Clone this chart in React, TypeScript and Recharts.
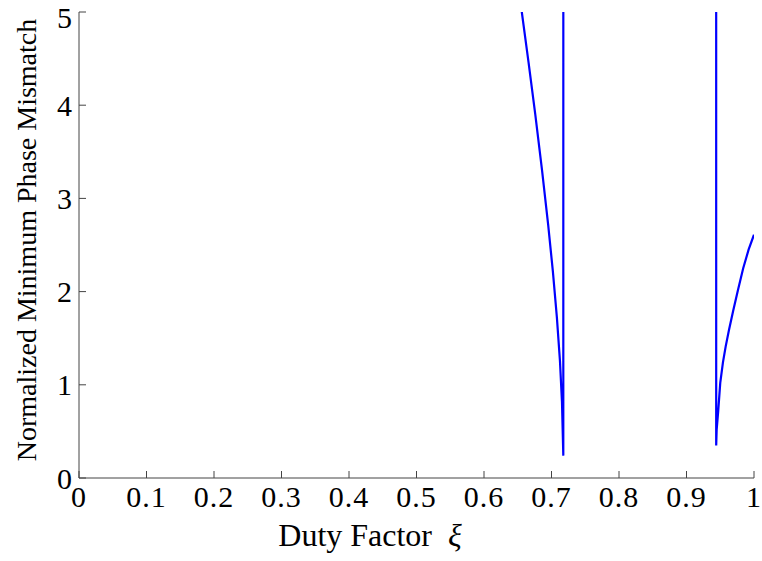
import { LineChart, Line, XAxis, YAxis, Label } from "recharts";

const dutyFactor = [
    0.648, 0.656, 0.666, 0.676, 0.686, 0.695, 0.702, 0.708, 0.7125, 0.7155, 0.7175, 0.7176,
    0.9438, 0.944, 0.9447, 0.947, 0.95, 0.954, 0.958, 0.963, 0.969, 0.976, 0.984, 0.992, 1.0,
];
const mismatch = [
    5.45, 5.0, 4.46, 3.9, 3.3, 2.72, 2.22, 1.72, 1.26, 0.82, 0.24, 30,
    30, 0.35, 0.52, 0.72, 1.02, 1.24, 1.41, 1.59, 1.79, 2.01, 2.25, 2.45, 2.61,
];
const xTicks = [0, 0.1, 0.2, 0.3, 0.4, 0.5, 0.6, 0.7, 0.8, 0.9, 1];
const yTicks = [0, 1, 2, 3, 4, 5];

const data = dutyFactor.map((x, i) => ({ x, y: mismatch[i] }));

const font = "'Liberation Serif', 'Times New Roman', serif";
const axisColor = "#444";
const tickStyle = { fill: "#000", fontSize: 30, fontFamily: font, letterSpacing: 1 };

export default function App() {
    return (
        <div style={{ position: "absolute", left: 0, top: 0, background: "#fff" }}>
            <LineChart
                width={762}
                height={561}
                data={data}
                margin={{ top: 12, right: 8, left: 0, bottom: 0 }}
            >
                <XAxis
                    xAxisId="b"
                    dataKey="x"
                    type="number"
                    domain={[0, 1]}
                    ticks={xTicks}
                    allowDataOverflow
                    height={83}
                    stroke={axisColor}
                    tickSize={-7}
                    tickMargin={15}
                    tick={tickStyle}
                    tickFormatter={(v) => String(v)}
                >
                    <Label
                        content={() => (
                            <text x={370} y={546} textAnchor="middle" fontSize={32} fontFamily={font} fill="#000">
                                Duty Factor <tspan fontStyle="italic" dx={8}>ξ</tspan>
                            </text>
                        )}
                    />
                </XAxis>
                <XAxis
                    xAxisId="t"
                    dataKey="x"
                    type="number"
                    orientation="top"
                    domain={[0, 1]}
                    ticks={xTicks}
                    allowDataOverflow
                    height={0}
                    stroke={axisColor}
                    tickSize={-7}
                    tick={false}
                />
                <YAxis
                    yAxisId="l"
                    type="number"
                    domain={[0, 5]}
                    ticks={yTicks}
                    allowDataOverflow
                    width={79}
                    stroke={axisColor}
                    tickSize={-7}
                    tickMargin={13}
                    tick={tickStyle}
                >
                    <Label
                        content={() => (
                            <text
                                x={36}
                                y={240}
                                transform="rotate(-90 36 240)"
                                textAnchor="middle"
                                fontSize={28}
                                fontFamily={font}
                                fill="#000"
                            >
                                Normalized Minimum Phase Mismatch
                            </text>
                        )}
                    />
                </YAxis>
                <YAxis
                    yAxisId="r"
                    type="number"
                    orientation="right"
                    domain={[0, 5]}
                    ticks={yTicks}
                    allowDataOverflow
                    width={0}
                    stroke={axisColor}
                    tickSize={-7}
                    tick={false}
                />
                <Line
                    xAxisId="b"
                    yAxisId="l"
                    dataKey="y"
                    type="linear"
                    stroke="#0000ff"
                    strokeWidth={2.2}
                    dot={false}
                    isAnimationActive={false}
                />
            </LineChart>
        </div>
    );
}
